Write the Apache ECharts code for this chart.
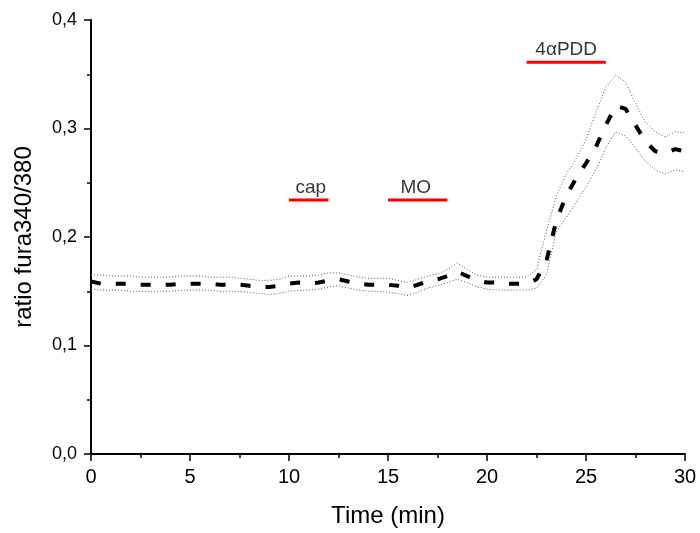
<!DOCTYPE html>
<html>
<head>
<meta charset="utf-8">
<script src="https://cdn.jsdelivr.net/npm/echarts@6/dist/echarts.min.js"></script>
<style>
html,body{margin:0;padding:0;background:#fff;}
#chart{width:700px;height:533px;}
</style>
</head>
<body>
<div id="chart"></div>
<script>
var timeMin = [0,0.5,1,1.5,2,2.5,3,3.5,4,4.5,5,5.5,6,6.5,7,7.5,8,8.5,9,9.5,10,10.5,11,11.5,12,12.5,13,13.5,14,14.5,15,15.5,16,16.5,17,17.5,18,18.5,19,19.5,20,20.5,21,21.5,22,22.5,23,23.5,24,24.5,25,25.5,26,26.5,27,27.5,28,28.5,29,29.5,30];
var meanRatio = [.159,.157,.157,.157,.157,.156,.156,.156,.156,.157,.157,.157,.157,.156,.156,.156,.155,.154,.154,.155,.157,.158,.157,.158,.160,.161,.159,.157,.156,.156,.156,.155,.153,.156,.159,.161,.164,.168,.164,.160,.158,.158,.157,.157,.157,.161,.178,.215,.238,.254,.268,.283,.303,.321,.318,.303,.288,.279,.277,.281,.279];
var upperRatio = [.165,.165,.164,.164,.164,.163,.163,.163,.163,.164,.164,.164,.163,.163,.163,.162,.161,.160,.160,.161,.164,.164,.164,.165,.167,.167,.165,.163,.162,.162,.162,.160,.158,.161,.164,.166,.170,.176,.170,.165,.163,.163,.163,.163,.163,.170,.205,.238,.258,.272,.290,.315,.338,.349,.343,.323,.306,.297,.292,.297,.296];
var lowerRatio = [.152,.151,.151,.151,.150,.150,.150,.150,.150,.151,.151,.151,.151,.150,.150,.150,.149,.148,.147,.148,.150,.151,.151,.152,.154,.155,.153,.151,.150,.150,.149,.148,.146,.149,.153,.155,.158,.161,.158,.154,.152,.151,.151,.151,.151,.153,.165,.205,.218,.232,.246,.262,.282,.297,.293,.282,.270,.262,.258,.262,.260];
var xTicks = [0,5,10,15,20,25,30];
var yTicks = [0,0.1,0.2,0.3,0.4];
var treatLabels = ['cap','MO','4αPDD'];
var treatStart = [10,15,22];
var treatEnd = [12,18,26];
var treatLevel = [0.234,0.234,0.361];
var labelPos = [[11.1,0.234],[16.4,0.234],[24,0.361]];

function pairs(xs, ys){ return xs.map(function(x,i){ return [x, ys[i]]; }); }

var FONT = 'Liberation Sans, Arial, sans-serif';
var series = [
  {type:'line', data:pairs(timeMin, upperRatio), symbol:'none', silent:true,
   lineStyle:{color:'#555', width:1, type:[1,2]}, z:2},
  {type:'line', data:pairs(timeMin, lowerRatio), symbol:'none', silent:true,
   lineStyle:{color:'#555', width:1, type:[1,2]}, z:2},
  {type:'line', data:pairs(timeMin, meanRatio), symbol:'none', silent:true,
   lineStyle:{color:'#000', width:4, type:[10,15], cap:'butt'}, z:3}
];
treatLabels.forEach(function(lbl, i){
  series.push({type:'line', data:[[treatStart[i], treatLevel[i]],[treatEnd[i], treatLevel[i]]],
    symbol:'none', silent:true, lineStyle:{color:'#ff0000', width:3, type:'solid'}, z:4});
  series.push({type:'scatter', data:[labelPos[i]], symbolSize:0, silent:true,
    label:{show:true, position:'top', distance:3, formatter:lbl, color:'#000',
      fontFamily:FONT, fontSize:19}, z:5});
});

var chart = echarts.init(document.getElementById('chart'), null, {renderer:'canvas'});
chart.setOption({
  animation:false,
  backgroundColor:'#fff',
  grid:{left:91, top:20, right:15, bottom:77, containLabel:false},
  xAxis:{type:'value', min:xTicks[0], max:xTicks[xTicks.length-1], interval:5,
    name:'Time (min)', nameLocation:'middle', nameGap:50,
    nameTextStyle:{fontFamily:FONT, fontSize:24, color:'#000'},
    axisLine:{show:true, onZero:false, lineStyle:{color:'#000', width:2}},
    axisTick:{show:true, inside:false, length:7, lineStyle:{color:'#000', width:1.5}},
    minorTick:{show:true, splitNumber:2, length:4, lineStyle:{color:'#000', width:1.5}},
    splitLine:{show:false},
    axisLabel:{fontFamily:FONT, fontSize:20, color:'#000', margin:13}},
  yAxis:{type:'value', min:yTicks[0], max:yTicks[yTicks.length-1], interval:0.1,
    name:'ratio fura340/380', nameLocation:'middle', nameGap:55, nameRotate:90,
    nameTextStyle:{fontFamily:FONT, fontSize:24, color:'#000'},
    axisLine:{show:true, lineStyle:{color:'#000', width:2}},
    axisTick:{show:true, inside:false, length:7, lineStyle:{color:'#000', width:1.5}},
    minorTick:{show:true, splitNumber:2, length:4, lineStyle:{color:'#000', width:1.5}},
    splitLine:{show:false},
    axisLabel:{fontFamily:FONT, fontSize:18, color:'#000', margin:14,
      formatter:function(v){ return v.toFixed(1).replace('.', ','); }}},
  series:series
});
</script>
</body>
</html>
